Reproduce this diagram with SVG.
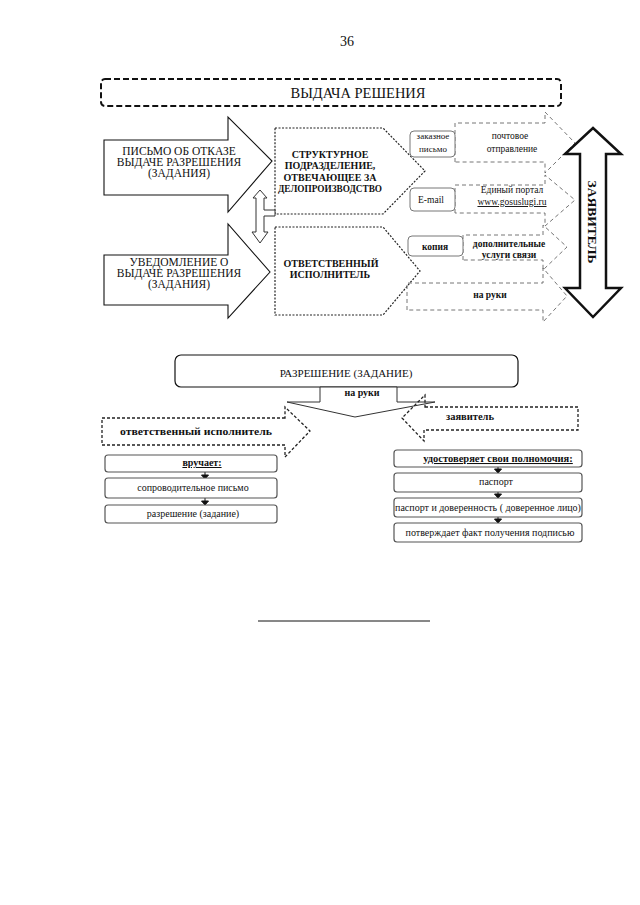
<svg xmlns="http://www.w3.org/2000/svg" width="640" height="905" viewBox="0 0 640 905">
<style>
text{font-family:"Liberation Serif","Times New Roman",serif;fill:#111}
.c{text-anchor:middle}
.b{font-weight:bold}
.u{text-decoration:underline}
.solid{fill:#fff;stroke:#111;stroke-width:1.1}
.dot{fill:#fff;stroke:#222;stroke-width:1.2;stroke-dasharray:2 1.5}
.gd{fill:none;stroke:#666;stroke-width:0.9;stroke-dasharray:4 3}
.rb{fill:#fff;stroke:#777;stroke-width:1}
.bd{fill:none;stroke:#222;stroke-width:1.3;stroke-dasharray:3 2}
.box{fill:#fff;stroke:#555;stroke-width:1.2}
.blk{fill:#111;stroke:#111;stroke-width:1}
</style>
<rect width="640" height="905" fill="#fff"/>
<text x="347" y="46" class="c" font-size="14">36</text>

<g id="banner">
<rect x="101" y="79" width="460" height="27" rx="4" fill="none" stroke="#111" stroke-width="2" stroke-dasharray="6 3"/>
<text x="358" y="98" class="c" font-size="14.5">ВЫДАЧА РЕШЕНИЯ</text>
</g>

<g id="refusal-letter">
<polygon class="solid" points="104,140 228,140 228,117 272,161 228,212 228,195 104,195"/>
<text class="c" font-size="11.5" x="179" y="155">ПИСЬМО ОБ ОТКАЗЕ</text>
<text class="c" font-size="11.5" x="179" y="166">ВЫДАЧЕ РАЗРЕШЕНИЯ</text>
<text class="c" font-size="11.5" x="179" y="177">(ЗАДАНИЯ)</text>
</g>

<g id="notice">
<polygon class="solid" points="104,255 228,255 228,224 270,272 228,318 228,305 104,305"/>
<text class="c" font-size="11.5" x="179" y="266">УВЕДОМЛЕНИЕ О</text>
<text class="c" font-size="11.5" x="179" y="277">ВЫДАЧЕ РАЗРЕШЕНИЯ</text>
<text class="c" font-size="11.5" x="179" y="288">(ЗАДАНИЯ)</text>
</g>

<g id="structural-unit">
<polygon class="dot" points="275,128 383,128 425,171 383,214 275,214"/>
<text class="c b" font-size="10" x="330" y="158">СТРУКТУРНОЕ</text>
<text class="c b" font-size="10" x="330" y="169">ПОДРАЗДЕЛЕНИЕ,</text>
<text class="c b" font-size="10" x="330" y="181">ОТВЕЧАЮЩЕЕ ЗА</text>
<text class="c b" font-size="10" x="330" y="192" textLength="104" lengthAdjust="spacingAndGlyphs">ДЕЛОПРОИЗВОДСТВО</text>
</g>

<g id="responsible-executor">
<polygon class="dot" points="275,227 383,227 420,271 383,315 275,315"/>
<text class="c b" font-size="10" x="331" y="267">ОТВЕТСТВЕННЫЙ</text>
<text class="c b" font-size="10" x="330" y="278">ИСПОЛНИТЕЛЬ</text>
</g>

<g id="row-mail">
<path class="gd" d="M455,162 L455,123 L545,123 L545,112 L575,143 L545,173 L545,162 Z"/>
<rect class="rb" x="410" y="131" width="45" height="26" rx="4"/>
<text class="c" font-size="9" x="433" y="139">заказное</text>
<text class="c" font-size="9" x="433" y="152">письмо</text>
<text class="c" font-size="9.5" x="510" y="139">почтовое</text>
<text class="c" font-size="9.5" x="512" y="152">отправление</text>
</g>

<g id="row-email">
<path class="gd" d="M455,213 L455,185 L545,185 L545,175 L575,200 L545,226 L545,213 Z"/>
<rect class="rb" x="410" y="188" width="45" height="23" rx="4"/>
<text class="c" font-size="9.5" x="431" y="203">E-mail</text>
<text class="c" font-size="9.5" x="512" y="193">Единый портал</text>
<text class="c u" font-size="9.5" x="512" y="205">www.gosuslugi.ru</text>
</g>

<g id="row-copy">
<path class="gd" d="M463,260 L463,235 L543,235 L543,225 L567,247 L543,270 L543,260 Z"/>
<rect class="rb" x="408" y="236" width="55" height="20" rx="4"/>
<text class="c b" font-size="9.5" x="435" y="250">копия</text>
<text class="c b" font-size="9.5" x="509" y="247">дополнительные</text>
<text class="c b" font-size="9.5" x="509" y="257.5">услуги связи</text>
</g>

<g id="row-hand">
<path class="gd" d="M407,310 L407,283 L543,283 L543,268 L567,296 L543,322 L543,310 Z"/>
<text class="c b" font-size="9.5" x="490" y="298">на руки</text>
</g>

<g id="applicant">
<polygon fill="#fff" stroke="#111" stroke-width="2.5" stroke-linejoin="miter" points="593,128 621,154 606,154 606,288 621,288 593,317 565,288 580,288 580,154 565,154"/>
<text class="b" font-size="13.5" transform="translate(588,222) rotate(90)" text-anchor="middle">ЗАЯВИТЕЛЬ</text>
</g>

<g id="connectors">
<polygon fill="#fff" stroke="#333" stroke-width="1" points="260,190 267,198 264,198 264,210 275,210 275,216 264,216 264,232 268,232 260,243 252,232 256,232 256,198 253,198"/>
<g class="blk">
<line x1="205" y1="472" x2="205" y2="475"/><polygon points="201.5,475 208.5,475 205,479"/>
<line x1="205" y1="498" x2="205" y2="501"/><polygon points="201.5,501 208.5,501 205,505"/>
<line x1="498" y1="467" x2="498" y2="469"/><polygon points="494.5,469 501.5,469 498,473"/>
<line x1="498" y1="492" x2="498" y2="494"/><polygon points="494.5,494 501.5,494 498,498"/>
<line x1="498" y1="517" x2="498" y2="519"/><polygon points="494.5,519 501.5,519 498,523"/>
</g>
</g>

<g id="permit">
<rect x="175" y="355" width="343" height="32" rx="6" fill="#fff" stroke="#111" stroke-width="1.2"/>
<text class="c" font-size="11" x="346" y="377">РАЗРЕШЕНИЕ (ЗАДАНИЕ)</text>
</g>

<g id="in-hand">
<polygon fill="#fff" stroke="#333" stroke-width="1" points="320,387 320,402 287,402 355,417 435,402 397,402 397,387"/>
<text class="c b" font-size="10" x="362" y="396">на руки</text>
</g>

<g id="executor-arrow">
<path class="bd" d="M285,418 L102,418 L102,445 L285,445 L285,457 L310,431 L285,407 Z"/>
<text class="c b" font-size="11" x="196" y="435" textLength="152" lengthAdjust="spacingAndGlyphs">ответственный исполнитель</text>
</g>

<g id="applicant-arrow">
<path class="bd" d="M425,407 L578,407 L578,430 L424,430 L424,441 L402,418 L425,395 Z"/>
<text class="c b" font-size="10.5" x="470" y="420">заявитель</text>
</g>

<g id="hands-over">
<rect class="box" x="105" y="455" width="172" height="17" rx="3"/>
<text class="c b u" font-size="10" x="202" y="466">вручает:</text>
</g>
<g id="cover-letter">
<rect class="box" x="105" y="478" width="172" height="20" rx="3"/>
<text class="c" font-size="10" x="193" y="491">сопроводительное письмо</text>
</g>
<g id="permit-doc">
<rect class="box" x="105" y="505" width="172" height="18" rx="3"/>
<text class="c" font-size="10" x="193" y="517">разрешение (задание)</text>
</g>

<g id="confirms">
<rect class="box" x="394" y="450" width="188" height="17" rx="3"/>
<text class="c b u" font-size="10.5" x="498" y="462">удостоверяет свои полномочия:</text>
</g>
<g id="passport">
<rect class="box" x="394" y="473" width="188" height="19" rx="3"/>
<text class="c" font-size="10" x="496" y="485">паспорт</text>
</g>
<g id="proxy">
<rect class="box" x="394" y="498" width="188" height="19" rx="3"/>
<text class="c" font-size="10" x="488" y="511">паспорт и доверенность ( доверенное лицо)</text>
</g>
<g id="signature">
<rect class="box" x="394" y="523" width="188" height="19" rx="3"/>
<text class="c" font-size="10" x="490" y="536">потверждает факт получения подписью</text>
</g>

<line x1="258" y1="621" x2="430" y2="621" stroke="#111" stroke-width="1"/>
</svg>
